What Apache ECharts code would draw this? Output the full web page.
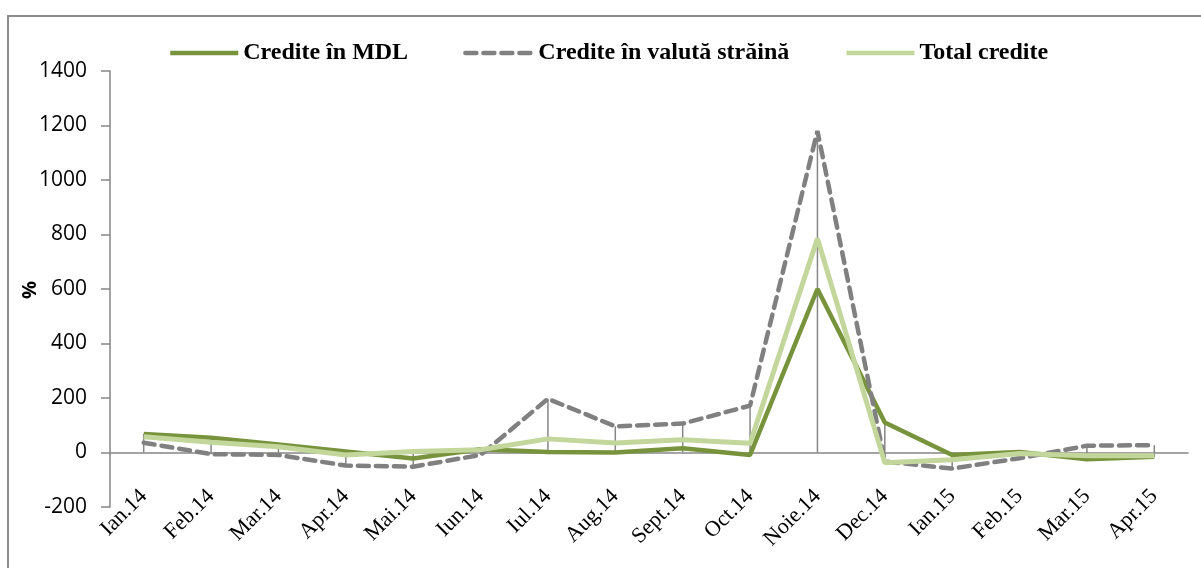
<!DOCTYPE html>
<html>
<head>
<meta charset="utf-8">
<script src="https://cdn.jsdelivr.net/npm/echarts@6/dist/echarts.min.js"></script>
<style>
	html, body { margin: 0; padding: 0; background: #fff; }
	#grafic { width: 1201px; height: 568px; }
</style>
</head>
<body>
<div id="grafic"></div>
<script type="text/javascript">
	// date (%)
	var luni = ['Ian.14', 'Feb.14', 'Mar.14', 'Apr.14', 'Mai.14', 'Iun.14', 'Iul.14', 'Aug.14', 'Sept.14', 'Oct.14', 'Noie.14', 'Dec.14', 'Ian.15', 'Feb.15', 'Mar.15', 'Apr.15'];
	var crediteMDL = [68, 54, 29, 4, -22, 12, 2, 0, 16, -9, 600, 110, -9, 2, -25, -16];
	var crediteValuta = [36, -6, -9, -48, -52, -9, 197, 96, 106, 172, 1180, -33, -59, -21, 25, 27];
	var totalCredite = [58, 38, 21, -9, 4, 10, 50, 35, 47, 34, 785, -38, -27, -4, -12, -12];
	var yTicks = [-200, 0, 200, 400, 600, 800, 1000, 1200, 1400];

	var dom = document.getElementById("grafic");
	var myChart = echarts.init(dom);
	var option = null;

	var axisColor = '#868686';
	var serif = '"Liberation Serif", "Times New Roman", serif';
	var sans = '"Open Sans", sans-serif';

	option = {
		animation: false,
		graphic: [{
			type: 'rect',
			shape: { x: 8, y: 16, width: 1220, height: 600 },
			style: { fill: 'none', stroke: '#8c8c8c', lineWidth: 2 },
			silent: true
		}, {
			// titlul axei Y
			type: 'text',
			x: 30,
			y: 290,
			rotation: Math.PI / 2,
			style: {
				text: '%',
				align: 'center',
				verticalAlign: 'middle',
				font: 'bold 20px "Open Sans", sans-serif',
				fill: '#000'
			},
			silent: true
		}],
		legend: {
			left: 163,
			top: 36,
			itemWidth: 68,
			itemHeight: 14,
			itemGap: 55,
			itemStyle: { opacity: 0 },
			lineStyle: { width: 4.5 },
			textStyle: {
				fontFamily: serif,
				fontWeight: 'bold',
				fontSize: 24,
				color: '#000'
			},
			data: ['Credite în MDL', 'Credite în valută străină', 'Total credite']
		},
		grid: {
			left: 110,
			right: 13,
			top: 71,
			bottom: 61,
			containLabel: false
		},
		xAxis: [{
			type: 'category',
			data: luni,
			boundaryGap: true,
			axisLine: { onZero: true, lineStyle: { color: axisColor, width: 1.5 } },
			axisTick: { show: false },
			axisLabel: { show: false }
		}, {
			// doar etichetele, jos
			type: 'category',
			data: luni,
			position: 'bottom',
			boundaryGap: true,
			axisLine: { show: false },
			axisTick: { show: false },
			axisLabel: {
				rotate: 45,
				margin: -14,
				fontFamily: serif,
				fontSize: 22,
				color: '#000'
			}
		}],
		yAxis: [{
			type: 'value',
			min: yTicks[0],
			max: yTicks[yTicks.length - 1],
			interval: 200,
			axisLine: { show: true, lineStyle: { color: axisColor, width: 1.5 } },
			axisTick: { show: true, length: 9, lineStyle: { color: axisColor, width: 1.5 } },
			axisLabel: {
				margin: 23,
				fontFamily: sans,
				fontSize: 21,
				color: '#000',
				formatter: function(v) { return String(v); }
			},
			splitLine: { show: false }
		}],
		series: [{
				// linii verticale de la axa la valoarea maxima
				name: 'drop',
				type: 'custom',
				xAxisIndex: 0,
				z: 1,
				silent: true,
				data: luni.map(function(l, i) { return [i]; }),
				renderItem: function(params, api) {
					var i = api.value(0);
					var vals = [0, crediteMDL[i], crediteValuta[i], totalCredite[i]];
					var lo = Math.min.apply(null, vals);
					var hi = Math.max.apply(null, vals);
					var p1 = api.coord([i, lo]);
					var p2 = api.coord([i, hi]);
					return {
						type: 'line',
						shape: { x1: p1[0], y1: p1[1], x2: p2[0], y2: p2[1] },
						style: { stroke: axisColor, lineWidth: 1.5 }
					};
				}
			},
			{
				name: 'Credite în MDL',
				type: 'line',
				xAxisIndex: 0,
				z: 3,
				symbol: 'none',
				data: crediteMDL,
				lineStyle: { color: '#77933C', width: 4.5 },
				itemStyle: { color: '#77933C' }
			},
			{
				name: 'Credite în valută străină',
				type: 'line',
				xAxisIndex: 0,
				z: 3,
				symbol: 'none',
				data: crediteValuta,
				lineStyle: { color: '#808080', width: 4.5, type: [11, 7], cap: 'round' },
				itemStyle: { color: '#808080' }
			},
			{
				name: 'Total credite',
				type: 'line',
				xAxisIndex: 0,
				z: 3,
				symbol: 'none',
				data: totalCredite,
				lineStyle: { color: '#C3D69B', width: 5 },
				itemStyle: { color: '#C3D69B' }
			}
		]
	};

	if(option && typeof option === "object") {
		myChart.setOption(option, true);
	}
</script>
</body>
</html>
